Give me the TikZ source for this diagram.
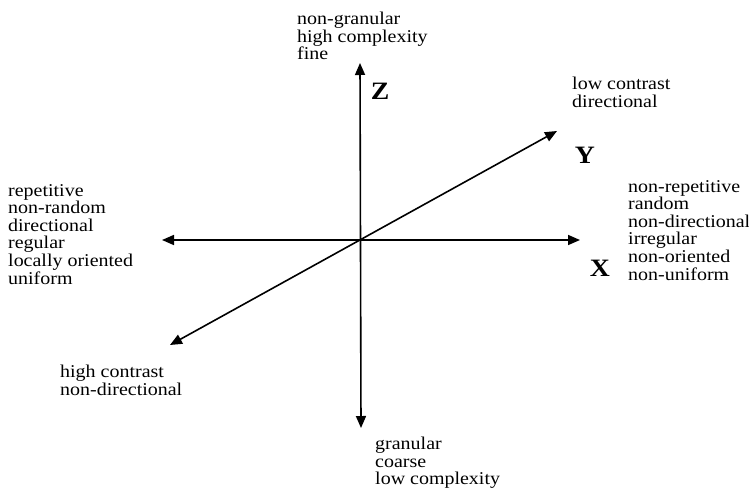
\documentclass[tikz,border=0pt]{standalone}
\usepackage{fontspec}
\setmainfont{Liberation Serif}[FakeStretch=1.11]
\usetikzlibrary{arrows.meta}
\tikzset{
  axis/.style={line width=1.6pt,{Triangle[length=12pt,width=10pt]}-{Triangle[length=12pt,width=10pt]}},
  desc/.style={anchor=north west,align=left,inner sep=0pt,font=\fontsize{18}{17.6}\selectfont},
  axname/.style={inner sep=0pt,font=\fontsize{25}{25}\selectfont\bfseries}
}
\begin{document}
\begin{tikzpicture}[x=1pt,y=-1pt]
  \useasboundingbox (0,0) rectangle (749,495);
  % axis end points
  \coordinate (o) at (360,240);
  \coordinate (zt) at (360,63);
  \coordinate (zb) at (361,428);
  \coordinate (xl) at (162,240);
  \coordinate (xr) at (580,240);
  \coordinate (yt) at (557,131);
  \coordinate (yb) at (170,345);
  \draw[axis] (zb) -- (zt);
  \draw[axis] (xl) -- (xr);
  \draw[axis] (yb) -- (yt);
  % axis names
  \node[axname] (zname) at (380,91) {Z};
  \node[axname] (yname) at (585,155) {Y};
  \node[axname] (xname) at (600,268) {X};
  % pole descriptions
  \node[desc] (ztop) at (297,12) {non-granular\\high complexity\\fine};
  \node[desc] (zbot) at (375,437) {granular\\coarse\\low complexity};
  \node[desc] (ytop) at (572,77) {low contrast\\directional};
  \node[desc] (ybot) at (60,365) {high contrast\\non-directional};
  \node[desc] (xright) at (628,180) {non-repetitive\\random\\non-directional\\irregular\\non-oriented\\non-uniform};
  \node[desc] (xleft) at (8,184) {repetitive\\non-random\\directional\\regular\\locally oriented\\uniform};
\end{tikzpicture}
\end{document}
